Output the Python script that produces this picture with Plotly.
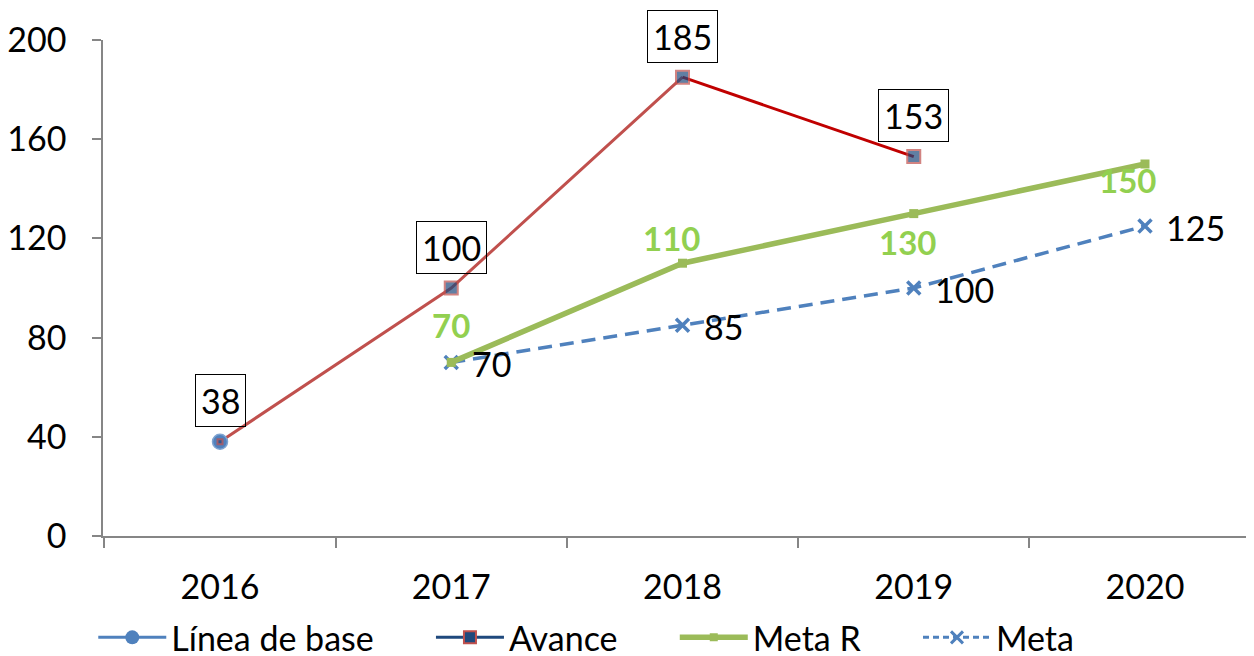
import plotly.graph_objects as go

years = [2016, 2017, 2018, 2019, 2020]
linea_base = [38, None, None, None, None]
avance = [38, 100, 185, 153, None]
meta_r = [None, 70, 110, 130, 150]
meta = [None, 70, 85, 100, 125]
y_ticks = [0, 40, 80, 120, 160, 200]
legend_names = ["Línea de base", "Avance", "Meta R", "Meta"]

FONT = "Lato"
FS = 34
BLUE = "#4F81BD"
NAVY = "#1F497D"
RED_L = "#C0504D"
RED_D = "#C00000"
GREEN = "#9BBB59"
GREEN_LBL = "#92D050"
AXIS = "#868686"
DASH = "14px,8px"
PAD = "\u00a0" * 6

fig = go.Figure()

# Avance segments (actual drawing)
fig.add_trace(go.Scatter(x=years[:3], y=avance[:3], mode="lines", line=dict(color=RED_L, width=3),
                         showlegend=False, hoverinfo="skip"))
fig.add_trace(go.Scatter(x=years[2:4], y=avance[2:4], mode="lines", line=dict(color=RED_D, width=3),
                         showlegend=False, hoverinfo="skip"))

# Meta (dashed)
fig.add_trace(go.Scatter(x=years, y=meta, mode="lines+markers", name=legend_names[3],
                         line=dict(color=BLUE, width=3.5, dash=DASH),
                         marker=dict(symbol="x-thin", size=13, line=dict(color=BLUE, width=3.5), color=BLUE),
                         showlegend=False))
# Meta R
fig.add_trace(go.Scatter(x=years, y=meta_r, mode="lines+markers", name=legend_names[2],
                         line=dict(color=GREEN, width=5.5),
                         marker=dict(symbol="square", size=9, color=GREEN),
                         showlegend=False))
# Línea de base
fig.add_trace(go.Scatter(x=years, y=linea_base, mode="markers", name=legend_names[0],
                         marker=dict(symbol="circle", size=15, color=BLUE, line=dict(color="#7FA3D0", width=1.5)),
                         showlegend=False))
# Avance markers
fig.add_trace(go.Scatter(x=years, y=avance, mode="markers", name=legend_names[1],
                         marker=dict(symbol="square", size=[5, 13, 13, 13, 13], color=NAVY,
                                     line=dict(color=RED_L, width=2)),
                         showlegend=False))

# Legend-only traces
fig.add_trace(go.Scatter(x=[None], y=[None], mode="lines+markers", name=legend_names[0] + PAD,
                         line=dict(color=BLUE, width=3),
                         marker=dict(symbol="circle", size=14, color=BLUE)))
fig.add_trace(go.Scatter(x=[None], y=[None], mode="lines+markers", name=legend_names[1] + PAD,
                         line=dict(color=NAVY, width=3),
                         marker=dict(symbol="square", size=12, color=NAVY, line=dict(color=RED_L, width=2))))
fig.add_trace(go.Scatter(x=[None], y=[None], mode="lines+markers", name=legend_names[2] + PAD,
                         line=dict(color=GREEN, width=5.5),
                         marker=dict(symbol="square", size=8, color=GREEN)))
fig.add_trace(go.Scatter(x=[None], y=[None], mode="lines+markers", name=legend_names[3],
                         line=dict(color=BLUE, width=3, dash="6px,4px"),
                         marker=dict(symbol="x-thin", size=12, line=dict(color=BLUE, width=3))))

ann = []
for x, v in zip(years, avance):
    if v is not None:
        ann.append(dict(x=x, y=v, text=str(v), showarrow=False, yshift=41,
                        font=dict(family=FONT, size=FS, color="black"),
                        bordercolor="black", borderwidth=1, borderpad=5))
mr_shift = {2017: (0, 37), 2018: (-11, 25), 2019: (-6, -28), 2020: (-17, -16)}
for x, v in zip(years, meta_r):
    if v is not None:
        dx, dy = mr_shift[x]
        ann.append(dict(x=x, y=v, text="<b>%d</b>" % v, showarrow=False, xshift=dx, yshift=dy,
                        font=dict(family=FONT, size=33, color=GREEN_LBL)))
for x, v in zip(years, meta):
    if v is not None:
        ann.append(dict(x=x, y=v, text=str(v), showarrow=False, xanchor="left", xshift=19, yshift=-1,
                        font=dict(family=FONT, size=FS, color="black")))

fig.update_layout(
    width=1254, height=656,
    margin=dict(l=95, r=0, t=32, b=128, autoexpand=False),
    paper_bgcolor="white", plot_bgcolor="white",
    font=dict(family=FONT, size=FS, color="black"),
    annotations=ann,
    legend=dict(orientation="h", xref="container", x=0.068, xanchor="left",
                yref="container", y=0.04, yanchor="middle",
                font=dict(family=FONT, size=FS), itemwidth=68,
                tracegroupgap=0),
    xaxis=dict(range=[2015.494, 2020.506], tickmode="array", tickvals=years, automargin=False,
               ticktext=[str(y) for y in years], ticks="", showgrid=False, zeroline=False,
               showline=True, linecolor=AXIS, linewidth=1.5, ticklabelstandoff=20,
               minor=dict(tickmode="linear", tick0=2015.5, dtick=1, ticks="outside", ticklen=10,
                          tickcolor=AXIS, tickwidth=1.5, showgrid=False),
               tickfont=dict(family=FONT, size=FS)),
    yaxis=dict(range=[0, 200], tickmode="array", tickvals=y_ticks, ticks="outside", ticklen=9,
               tickcolor=AXIS, tickwidth=1.5, showgrid=False, zeroline=False, automargin=False,
               showline=True, linecolor=AXIS, linewidth=1.5, ticklabelstandoff=19,
               tickfont=dict(family=FONT, size=FS)),
)

fig.write_html("out.html")
